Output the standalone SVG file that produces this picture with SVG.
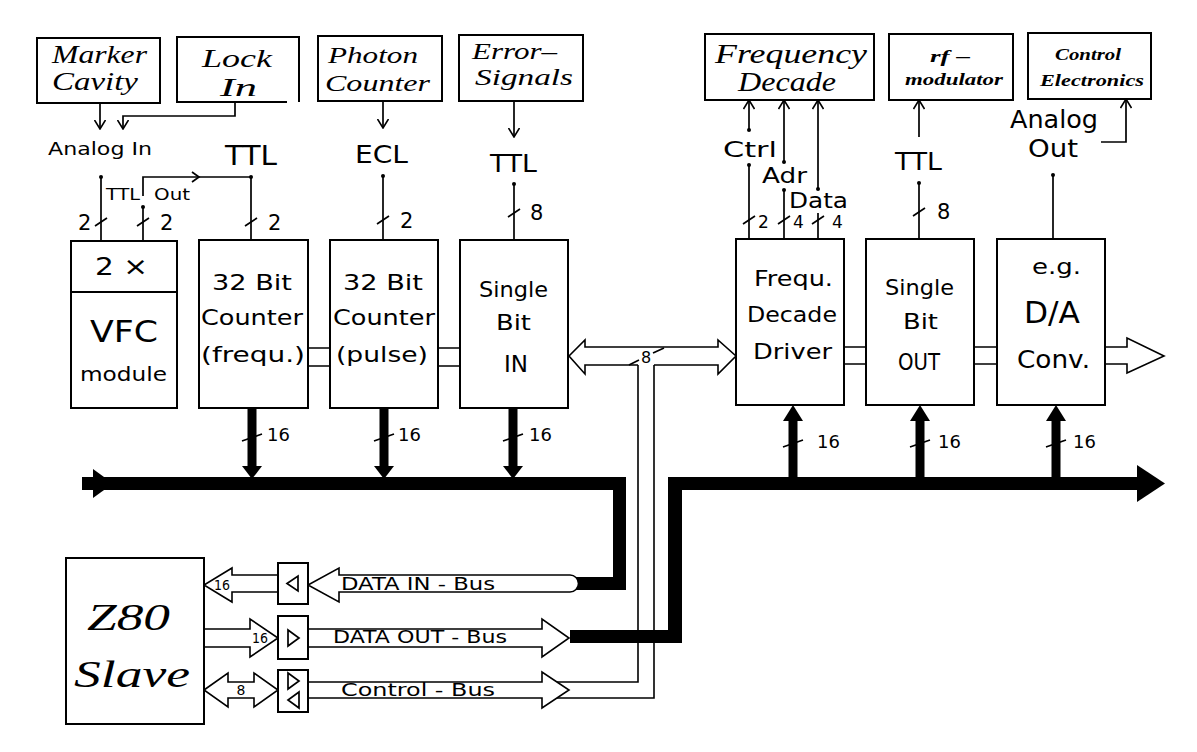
<svg xmlns="http://www.w3.org/2000/svg" width="1197" height="752" viewBox="0 0 1197 752">
<style>
.box{fill:#fff;stroke:#000;stroke-width:2}
.ln{fill:none;stroke:#000;stroke-width:1.7}
.hb{fill:#fff;stroke:#000;stroke-width:1.6;stroke-linejoin:miter}
.blk{fill:#000;stroke:none}
.ser{font-family:"Liberation Serif",serif;font-style:italic;fill:#000}
.bi{font-family:"Liberation Serif",serif;font-style:italic;font-weight:bold;fill:#000}
.sans{font-family:"DejaVu Sans",sans-serif;fill:#000}
</style>
<defs>
<marker id="oa" viewBox="0 0 10 12" refX="9.5" refY="6" markerWidth="10" markerHeight="12" markerUnits="userSpaceOnUse" orient="auto">
<path d="M0.5,0.5 L9.5,6 L0.5,11.5" fill="none" stroke="#000" stroke-width="1.6"/>
</marker>
</defs>
<rect width="1197" height="752" fill="#fff"/>

<g id="connectors">
<line class="ln" x1="100" y1="103" x2="100" y2="129" marker-end="url(#oa)"/>
<path class="ln" d="M235,102 V116 H123 V129" marker-end="url(#oa)"/>
<line class="ln" x1="383" y1="101" x2="383" y2="128" marker-end="url(#oa)"/>
<line class="ln" x1="514" y1="101" x2="514" y2="137" marker-end="url(#oa)"/>
<line class="ln" x1="749" y1="130" x2="749" y2="100" marker-end="url(#oa)"/>
<line class="ln" x1="784" y1="162" x2="784" y2="100" marker-end="url(#oa)"/>
<line class="ln" x1="818" y1="189" x2="818" y2="100" marker-end="url(#oa)"/>
<line class="ln" x1="919" y1="137" x2="919" y2="100" marker-end="url(#oa)"/>
<path class="ln" d="M1101,142 H1126 V99" marker-end="url(#oa)"/>
<line class="ln" x1="101" y1="177" x2="101" y2="241"/>
<path class="ln" d="M143,196 V177 H251 V240"/>
<path class="ln" d="M192,172 L199,177 L192,182"/>
<line class="ln" x1="143" y1="207" x2="143" y2="241"/>
<line class="ln" x1="383" y1="176" x2="383" y2="240"/>
<line class="ln" x1="514" y1="184" x2="514" y2="240"/>
<line class="ln" x1="749" y1="165" x2="749" y2="239"/>
<line class="ln" x1="784" y1="190" x2="784" y2="239"/>
<line class="ln" x1="818" y1="213" x2="818" y2="239"/>
<line class="ln" x1="919" y1="183" x2="919" y2="239"/>
<line class="ln" x1="1053" y1="175" x2="1053" y2="239"/>
<g class="blk">
<circle cx="101" cy="177" r="2"/><circle cx="143" cy="207" r="2"/>
<circle cx="251" cy="177" r="2"/><circle cx="383" cy="176" r="2"/>
<circle cx="514" cy="184" r="2"/><circle cx="749" cy="130" r="2"/>
<circle cx="749" cy="165" r="2"/><circle cx="784" cy="162" r="2"/>
<circle cx="784" cy="190" r="2"/><circle cx="818" cy="189" r="2"/>
<circle cx="919" cy="183" r="2"/><circle cx="1053" cy="175" r="2"/>
</g>
<path class="ln" d="M95,226 L107,218 M137,226 L149,218 M245,226 L257,218 M377,224 L389,216 M508,217 L520,209 M743,224 L755,216 M778,224 L790,216 M812,224 L824,216 M913,216 L925,208"/>
<path class="ln" d="M242,441 L262,434 M374,441 L394,434 M503,441 L523,434 M783,447 L803,440 M910,447 L930,440 M1046,447 L1066,440"/>
<path class="ln" d="M308,348 H330 M308,366 H330 M438,348 H460 M438,366 H460 M844,347 H866 M844,364 H866 M974,347 H997 M974,364 H997"/>
<path class="hb" d="M1105,347 H1127 V338 L1164,356 L1127,373 V364 H1105"/>
<path class="ln" style="stroke-width:1.6" d="M638,365 H585 V374 L569,356 L585,340 V347 H718 V340 L736,356 L718,374 V365 H654"/>
<path class="ln" style="stroke-width:1.6" d="M638,365 V682 H557 M654,365 V698 H556"/>
<path class="ln" d="M629,365 L639,360 M653,353 L664,348"/>
<g class="blk">
<rect x="82" y="477" width="544" height="13"/>
<rect x="613" y="477" width="13" height="113"/>
<rect x="570" y="577" width="56" height="13"/>
<polygon points="93,469 113,483.5 93,498"/>
<rect x="668" y="477" width="14" height="166"/>
<rect x="570" y="630" width="112" height="13"/>
<rect x="668" y="477" width="472" height="13"/>
<polygon points="1137,465 1165,483.5 1137,502"/>
<rect x="247.5" y="408" width="9" height="60"/>
<polygon points="242,466 262,466 252,479"/>
<rect x="379.5" y="408" width="9" height="60"/>
<polygon points="374,466 394,466 384,479"/>
<rect x="508.5" y="408" width="9" height="60"/>
<polygon points="503,466 523,466 513,479"/>
<rect x="788.5" y="418" width="9" height="60"/>
<polygon points="783,421 803,421 793,405"/>
<rect x="915.5" y="418" width="9" height="60"/>
<polygon points="910,421 930,421 920,405"/>
<rect x="1051.5" y="418" width="9" height="60"/>
<polygon points="1046,421 1066,421 1056,405"/>
</g>
<path class="hb" d="M278,575 H232 V568 L204,585 L232,602 V592 H278 Z"/>
<path class="hb" d="M570,575 H339 V568 L308,585 L339,602 V592 H570 A8.5,8.5 0 0 0 570,575 Z"/>
<path class="hb" d="M204,629 H250 V619 L278,638 L250,657 V647 H204"/>
<path class="hb" d="M308,629 H542 V619 L569,638 L542,657 V647 H308"/>
<path class="hb" d="M204,690 L228,673 V682 H254 V673 L278,690 L254,707 V698 H228 V707 Z"/>
<path class="hb" d="M308,682 H542 V672 L569,690 L542,708 V698 H308"/>
</g>

<g id="marker-cavity">
<rect class="box" x="37" y="38" width="123" height="65"/>
<text class="ser" x="52" y="63" font-size="25" textLength="95" lengthAdjust="spacingAndGlyphs">Marker</text>
<text class="ser" x="52" y="90" font-size="25" textLength="86" lengthAdjust="spacingAndGlyphs">Cavity</text>
</g>
<g id="lock-in">
<path class="ln" style="stroke-width:2" d="M287,102 H177 V37 H299 V102"/>
<text class="ser" x="202" y="67" font-size="26" textLength="70" lengthAdjust="spacingAndGlyphs">Lock</text>
<text class="ser" x="220" y="96" font-size="26" textLength="37" lengthAdjust="spacingAndGlyphs">In</text>
</g>
<g id="photon-counter">
<rect class="box" x="318" y="36" width="124" height="65"/>
<text class="ser" x="328" y="63" font-size="24" textLength="90" lengthAdjust="spacingAndGlyphs">Photon</text>
<text class="ser" x="325" y="91" font-size="24" textLength="105" lengthAdjust="spacingAndGlyphs">Counter</text>
</g>
<g id="error-signals">
<rect class="box" x="459" y="35" width="124" height="66"/>
<text class="ser" x="472" y="59" font-size="24" textLength="85" lengthAdjust="spacingAndGlyphs">Error–</text>
<text class="ser" x="475" y="85" font-size="24" textLength="98" lengthAdjust="spacingAndGlyphs">Signals</text>
</g>
<g id="frequency-decade">
<rect class="box" x="705" y="34" width="169" height="66"/>
<text class="ser" x="715" y="63" font-size="27" textLength="152" lengthAdjust="spacingAndGlyphs">Frequency</text>
<text class="ser" x="738" y="91" font-size="27" textLength="98" lengthAdjust="spacingAndGlyphs">Decade</text>
</g>
<g id="rf-modulator">
<rect class="box" x="889" y="34" width="124" height="66"/>
<text class="bi" x="930" y="62" font-size="17" textLength="40" lengthAdjust="spacingAndGlyphs">rf –</text>
<text class="bi" x="905" y="85" font-size="17" textLength="98" lengthAdjust="spacingAndGlyphs">modulator</text>
</g>
<g id="control-electronics">
<rect class="box" x="1028" y="33" width="123" height="66"/>
<text class="bi" x="1055" y="60" font-size="16" textLength="66" lengthAdjust="spacingAndGlyphs">Control</text>
<text class="bi" x="1040" y="86" font-size="16" textLength="104" lengthAdjust="spacingAndGlyphs">Electronics</text>
</g>

<g id="vfc-module">
<rect class="box" x="71" y="241" width="106" height="167"/>
<line class="ln" style="stroke-width:2" x1="71" y1="292" x2="177" y2="292"/>
<text class="sans" x="95" y="275" font-size="24" textLength="53" lengthAdjust="spacingAndGlyphs">2 ×</text>
<text class="sans" x="90" y="342" font-size="30" textLength="68" lengthAdjust="spacingAndGlyphs">VFC</text>
<text class="sans" x="80" y="381" font-size="20" textLength="87" lengthAdjust="spacingAndGlyphs">module</text>
</g>
<g id="counter-frequ">
<rect class="box" x="199" y="240" width="109" height="168"/>
<text class="sans" x="212" y="290" font-size="21" textLength="80" lengthAdjust="spacingAndGlyphs">32 Bit</text>
<text class="sans" x="201" y="325" font-size="21" textLength="102" lengthAdjust="spacingAndGlyphs">Counter</text>
<text class="sans" x="201" y="362" font-size="21" textLength="104" lengthAdjust="spacingAndGlyphs">(frequ.)</text>
</g>
<g id="counter-pulse">
<rect class="box" x="330" y="240" width="108" height="168"/>
<text class="sans" x="343" y="290" font-size="21" textLength="80" lengthAdjust="spacingAndGlyphs">32 Bit</text>
<text class="sans" x="333" y="325" font-size="21" textLength="102" lengthAdjust="spacingAndGlyphs">Counter</text>
<text class="sans" x="336" y="362" font-size="21" textLength="92" lengthAdjust="spacingAndGlyphs">(pulse)</text>
</g>
<g id="single-bit-in">
<rect class="box" x="460" y="240" width="108" height="168"/>
<text class="sans" x="479" y="297" font-size="21" textLength="69" lengthAdjust="spacingAndGlyphs">Single</text>
<text class="sans" x="496" y="330" font-size="21" textLength="35" lengthAdjust="spacingAndGlyphs">Bit</text>
<text class="sans" x="504" y="372" font-size="23" textLength="24" lengthAdjust="spacingAndGlyphs">IN</text>
</g>
<g id="frequ-decade-driver">
<rect class="box" x="736" y="239" width="108" height="166"/>
<text class="sans" x="754" y="286" font-size="21" textLength="79" lengthAdjust="spacingAndGlyphs">Frequ.</text>
<text class="sans" x="747" y="322" font-size="21" textLength="90" lengthAdjust="spacingAndGlyphs">Decade</text>
<text class="sans" x="753" y="359" font-size="21" textLength="79" lengthAdjust="spacingAndGlyphs">Driver</text>
</g>
<g id="single-bit-out">
<rect class="box" x="866" y="239" width="108" height="166"/>
<text class="sans" x="885" y="295" font-size="21" textLength="69" lengthAdjust="spacingAndGlyphs">Single</text>
<text class="sans" x="903" y="329" font-size="21" textLength="35" lengthAdjust="spacingAndGlyphs">Bit</text>
<text class="sans" x="898" y="370" font-size="23" textLength="42" lengthAdjust="spacingAndGlyphs">OUT</text>
</g>
<g id="da-conv">
<rect class="box" x="997" y="239" width="108" height="166"/>
<text class="sans" x="1032" y="274" font-size="21" textLength="49" lengthAdjust="spacingAndGlyphs">e.g.</text>
<text class="sans" x="1024" y="323" font-size="30" textLength="56" lengthAdjust="spacingAndGlyphs">D/A</text>
<text class="sans" x="1017" y="368" font-size="24" textLength="73" lengthAdjust="spacingAndGlyphs">Conv.</text>
</g>

<g id="z80-slave">
<rect class="box" x="66" y="558" width="138" height="166"/>
<text class="ser" x="87" y="630" font-size="38" textLength="83" lengthAdjust="spacingAndGlyphs">Z80</text>
<text class="ser" x="74" y="687" font-size="38" textLength="116" lengthAdjust="spacingAndGlyphs">Slave</text>
</g>
<g id="buffer-in">
<rect class="box" x="278" y="563" width="30" height="41"/>
<path class="ln" d="M287,583.5 L298,576 L298,591 Z"/>
</g>
<g id="buffer-out">
<rect class="box" x="278" y="616" width="30" height="43"/>
<path class="ln" d="M288,630 L299,638 L288,646 Z"/>
</g>
<g id="buffer-ctrl">
<rect class="box" x="278" y="670" width="30" height="42"/>
<path class="ln" d="M288,673 L299,681 L288,689 Z"/>
<path class="ln" d="M299,692 L288,700 L299,708 Z"/>
</g>

<g id="signal-labels">
<text class="sans" x="48" y="155" font-size="18" textLength="104" lengthAdjust="spacingAndGlyphs">Analog In</text>
<text class="sans" x="225" y="165" font-size="27" textLength="52" lengthAdjust="spacingAndGlyphs">TTL</text>
<text class="sans" x="106" y="200" font-size="16" textLength="34" lengthAdjust="spacingAndGlyphs">TTL</text>
<text class="sans" x="154" y="200" font-size="16" textLength="36" lengthAdjust="spacingAndGlyphs">Out</text>
<text class="sans" x="355" y="163" font-size="24" textLength="53" lengthAdjust="spacingAndGlyphs">ECL</text>
<text class="sans" x="490" y="172" font-size="24" textLength="47" lengthAdjust="spacingAndGlyphs">TTL</text>
<text class="sans" x="723" y="157" font-size="21" textLength="54" lengthAdjust="spacingAndGlyphs">Ctrl</text>
<text class="sans" x="762" y="183" font-size="21" textLength="45" lengthAdjust="spacingAndGlyphs">Adr</text>
<text class="sans" x="789" y="208" font-size="21" textLength="59" lengthAdjust="spacingAndGlyphs">Data</text>
<text class="sans" x="895" y="170" font-size="24" textLength="47" lengthAdjust="spacingAndGlyphs">TTL</text>
<text class="sans" x="1010" y="128" font-size="24" textLength="88" lengthAdjust="spacingAndGlyphs">Analog</text>
<text class="sans" x="1028" y="157" font-size="24" textLength="50" lengthAdjust="spacingAndGlyphs">Out</text>
<g font-size="21" class="sans">
<text x="78" y="230">2</text>
<text x="160" y="230">2</text>
<text x="268" y="230">2</text>
<text x="400" y="228">2</text>
<text x="530" y="220">8</text>
<text x="937" y="219">8</text>
</g>
<g font-size="17" class="sans">
<text x="758" y="228">2</text>
<text x="793" y="228">4</text>
<text x="832" y="228">4</text>
</g>
<g font-size="18" class="sans">
<text x="267" y="441">16</text>
<text x="398" y="441">16</text>
<text x="529" y="441">16</text>
<text x="817" y="448">16</text>
<text x="938" y="448">16</text>
<text x="1073" y="448">16</text>
</g>
<text class="sans" x="646" y="363" font-size="16" text-anchor="middle">8</text>
<text class="sans" x="214" y="590" font-size="14" textLength="16" lengthAdjust="spacingAndGlyphs">16</text>
<text class="sans" x="252" y="643" font-size="14" textLength="16" lengthAdjust="spacingAndGlyphs">16</text>
<text class="sans" x="241" y="695" font-size="14" text-anchor="middle">8</text>
<text class="sans" x="341" y="590" font-size="17" textLength="154" lengthAdjust="spacingAndGlyphs">DATA IN - Bus</text>
<text class="sans" x="333" y="643" font-size="17" textLength="174" lengthAdjust="spacingAndGlyphs">DATA OUT - Bus</text>
<text class="sans" x="341" y="696" font-size="17" textLength="154" lengthAdjust="spacingAndGlyphs">Control - Bus</text>
</g>
</svg>
